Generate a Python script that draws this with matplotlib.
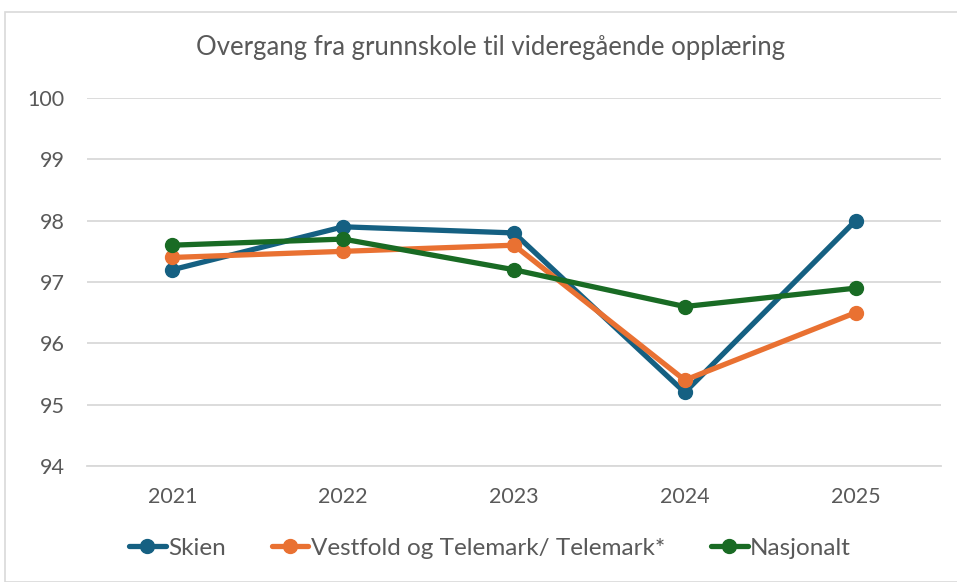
import matplotlib
matplotlib.use("Agg")
import matplotlib.pyplot as plt
from matplotlib.patches import Rectangle

years = ["2021", "2022", "2023", "2024", "2025"]
skien = [97.2, 97.9, 97.8, 95.2, 98.0]
vestfold = [97.4, 97.5, 97.6, 95.4, 96.5]
nasjonalt = [97.6, 97.7, 97.2, 96.6, 96.9]
series_names = ["Skien", "Vestfold og Telemark/ Telemark*", "Nasjonalt"]
yticks = [94, 95, 96, 97, 98, 99, 100]

colors = ["#156082", "#E97132", "#196B24"]
txt = "#595959"
fam = ["Lato", "DejaVu Sans"]

fig = plt.figure(figsize=(9.57, 5.82), dpi=100)
W, H = 957, 582
fig.patches.append(Rectangle((5 / W, 0), 1.2, (H - 12) / H, transform=fig.transFigure,
                             fill=False, edgecolor="#D9D9D9", linewidth=1.2))
ax = fig.add_axes([87 / W, 1 - 466 / H, (941 - 87) / W, (466 - 98) / H])

x = list(range(len(years)))
for vals, c, name in zip([skien, vestfold, nasjonalt], colors, series_names):
    ax.plot(x, vals, color=c, lw=3.8, marker="o", ms=10, label=name, solid_capstyle="round")

ax.set_xlim(-0.5, len(years) - 0.5)
ax.set_ylim(94, 100)
ax.set_yticks(yticks)
ax.set_xticks(x)
ax.set_xticklabels(years)
ax.grid(axis="y", color="#D9D9D9", lw=1.3)
ax.set_axisbelow(True)
for s in ax.spines.values():
    s.set_visible(False)
ax.spines["bottom"].set_visible(True)
ax.spines["bottom"].set_color("#D9D9D9")
ax.spines["bottom"].set_linewidth(1.3)
ax.tick_params(length=0, labelsize=15.5, labelcolor=txt, pad=15)
ax.tick_params(axis="y", pad=16)
for lab in ax.get_yticklabels() + ax.get_xticklabels():
    lab.set_fontfamily(fam)

fig.text(491 / W, 1 - 48 / H, "Overgang fra grunnskole til videregående opplæring",
         ha="center", va="center", fontsize=18.5, color=txt, family=fam)

leg = fig.legend(loc="center", bbox_to_anchor=(490 / W, 1 - 548 / H), ncol=3, frameon=False,
                 prop={"family": fam, "size": 17.5}, handlelength=1.5, handletextpad=0.1,
                 columnspacing=1.9, labelcolor=txt)

fig.savefig("out.png", dpi=100)
